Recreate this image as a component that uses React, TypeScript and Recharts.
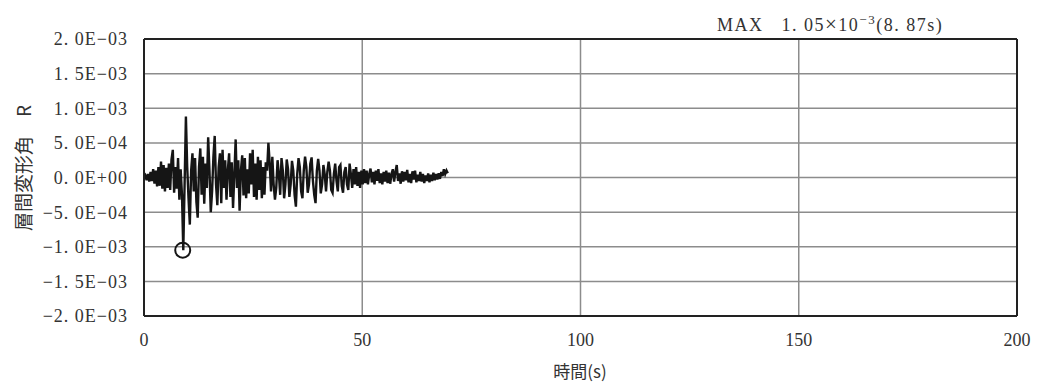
import {
  CartesianGrid,
  Line,
  LineChart,
  ReferenceDot,
  ReferenceLine,
  XAxis,
  YAxis,
} from "recharts"

// sample step of the trace (s)
const DT = 0.3

// story drift angle R, in units of 1E-4, every DT seconds
const driftE4 = [
  0, 0.3, -0.4, 0.5, -0.6, 0.8, -0.5, 1.2, -0.9, 1.0,
  -1.3, 1.5, -1.2, 2.3, -1.6, 1.8, -2.0, 1.4, -1.5, 2.0,
  -1.8, 2.6, 4.0, -2.2, 1.5, -1.6, 2.8, -3.2, 1.2, -2.5,
  -10.5, -1.0, 8.8, 1.5, -3.0, -6.8, 1.0, 3.5, -2.0, 2.8,
  -3.5, -5.8, 1.5, 4.2, -2.5, 3.0, -3.8, 2.0, -1.5, 5.8,
  1.0, -5.0, -2.0, 3.0, 6.0, -1.0, -4.0, 1.5, 3.5, -3.7,
  4.0, -1.5, 2.5, -3.2, 1.0, 3.5, -2.8, 2.2, -4.4, 0.5,
  5.5, -1.5, 2.5, -4.8, 1.0, 3.2, -2.6, 2.8, -3.0, 1.2,
  -2.3, 3.5, -1.0, 4.0, -2.8, 2.0, -3.2, 3.0, -1.8, 2.5,
  -3.0, 1.5, -2.5, 2.2, 1.0, 5.0, 2.0, -2.0, 3.0, -1.0,
  -3.2, -1.5, 2.5, 0.5, -2.5, 2.8, 1.0, -3.0, -1.0, 2.6,
  1.2, -2.8, -1.0, 2.4, 1.0, -2.5, -4.2, 0.5, 2.8, 1.5,
  -2.0, -3.0, 1.0, 3.0, 1.5, -2.2, -1.0, 2.0, 2.9, -0.5,
  -2.5, -3.7, 1.0, 2.7, 1.0, -2.3, -1.0, 1.8, 0.5, -2.0,
  0.8, 2.3, 1.0, -1.8, -2.2, 0.5, 2.0, -0.5, -2.0, 1.5,
  1.8, -1.2, -2.2, 0.8, 1.5, -1.0, -1.8, 2.0, 0.5, -1.5,
  1.2, -1.0, 1.5, -1.2, 0.8, -1.5, 1.0, -1.0, 1.2, -0.8,
  1.0, -1.0, 0.5, 1.3, -0.7, 0.8, -1.0, 1.0, -0.5, 1.2,
  -0.8, 0.6, -1.0, 0.8, -0.6, 1.0, -0.8, 0.7, -0.9, 0.5,
  1.2, -0.6, 0.8, 1.8, -0.5, 0.6, -0.9, 0.9, -0.6, 0.8,
  -0.4, 1.1, -0.7, 0.5, -0.8, 0.9, -0.3, 1.0, -0.7, 0.4,
  -0.5, 0.8, -0.6, 0.5, -0.8, 0.3, -0.5, 0.6, -0.7, 0.4,
  -0.5, 0.7, -0.4, 0.5, -0.3, 0.6, -0.2, 0.8, 0.2, 1.2,
  0.5, 1.0, 0.6,
]

const maxTime = 8.87
const maxValue = -1.05e-3

const xTicks = [0, 50, 100, 150, 200]
const yTicks = [-2e-3, -1.5e-3, -1e-3, -5e-4, 0, 5e-4, 1e-3, 1.5e-3, 2e-3]
const yTickLabels = [
  "−2. 0E−03",
  "−1. 5E−03",
  "−1. 0E−03",
  "−5. 0E−04",
  "0. 0E+00",
  "5. 0E−04",
  "1. 0E−03",
  "1. 5E−03",
  "2. 0E−03",
]

const data = driftE4.map((v, i) => ({ t: +(i * DT).toFixed(2), r: v * 1e-4 }))

const FONT = '"Liberation Serif", "DejaVu Serif", serif'
const CJK = '"Noto Sans CJK JP", sans-serif'

export default function App() {
  return (
    <div
      style={{
        position: "absolute",
        left: 0,
        top: 0,
        width: 1040,
        height: 387,
        background: "#fff",
      }}
    >
      <div
        style={{
          position: "absolute",
          left: 717,
          top: 10,
          fontFamily: FONT,
          fontSize: 18,
          color: "#333",
          whiteSpace: "pre",
          letterSpacing: 1.5,
          lineHeight: "20px",
        }}
      >
        {"MAX   1. 05"}
        <span style={{ fontSize: 21 }}>×</span>
        {"10"}
        <span style={{ fontSize: 13, verticalAlign: "7px" }}>−3</span>
        {"(8. 87s)"}
      </div>
      <LineChart
        width={1040}
        height={387}
        data={data}
        margin={{ top: 39, right: 23, bottom: 0, left: 0 }}
      >
        <CartesianGrid stroke="#8c8c8c" strokeWidth={1.5} />
        <XAxis
          dataKey="t"
          type="number"
          domain={[0, 200]}
          ticks={xTicks}
          height={71}
          tickLine={false}
          tickMargin={11}
          axisLine={{ stroke: "#222", strokeWidth: 2 }}
          tick={{ fill: "#333", fontSize: 18, fontFamily: FONT }}
          label={() => (
            <text
              x={580}
              y={378}
              textAnchor="middle"
              fill="#333"
              fontSize={17}
              fontFamily={CJK}
            >
              時間(s)
            </text>
          )}
        />
        <YAxis
          type="number"
          domain={[-2e-3, 2e-3]}
          ticks={yTicks}
          width={144}
          tickLine={false}
          tickMargin={10}
          interval={0}
          axisLine={{ stroke: "#222", strokeWidth: 2 }}
          tick={{ fill: "#333", fontSize: 18, fontFamily: FONT, letterSpacing: 1 }}
          tickFormatter={(v) => yTickLabels[yTicks.findIndex((y) => Math.abs(y - v) < 1e-9)] ?? ""}
          label={() => (
            <text
              x={22}
              y={168}
              transform="rotate(-90 22 168)"
              textAnchor="middle"
              dominantBaseline="central"
              fill="#333"
              fontSize={19}
              fontFamily={CJK}
            >
              層間変形角　R
            </text>
          )}
        />
        <ReferenceLine y={2e-3} stroke="#222" strokeWidth={2} />
        <ReferenceLine x={200} stroke="#222" strokeWidth={2} />
        <Line
          dataKey="r"
          stroke="#151515"
          strokeWidth={2.4}
          dot={false}
          isAnimationActive={false}
        />
        <ReferenceDot
          x={maxTime}
          y={maxValue}
          r={7.5}
          fill="none"
          stroke="#151515"
          strokeWidth={2}
        />
      </LineChart>
    </div>
  )
}
